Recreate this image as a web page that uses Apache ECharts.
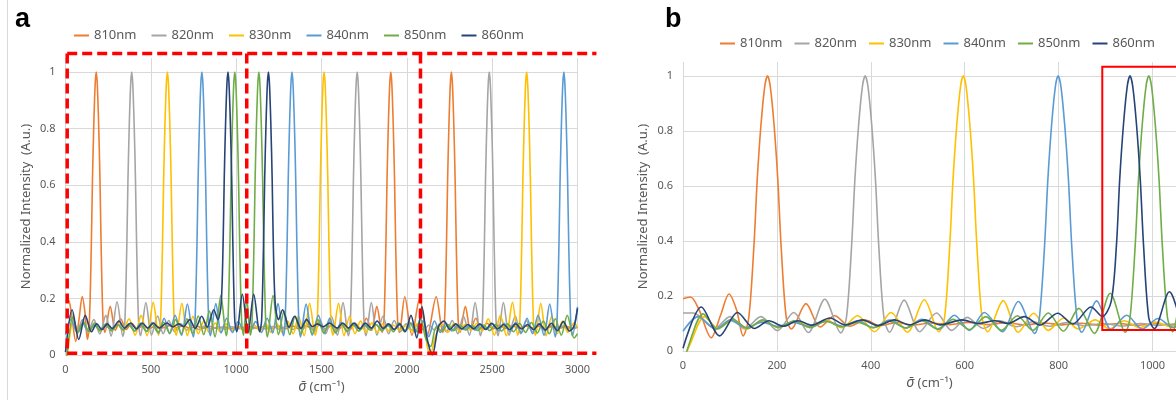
<!DOCTYPE html>
<html>
<head>
<meta charset="utf-8">
<script src="https://cdn.jsdelivr.net/npm/echarts@6/dist/echarts.min.js"></script>
<style>
  html, body { margin: 0; padding: 0; background: #ffffff; }
  #chart { width: 1176px; height: 400px; }
</style>
</head>
<body>
<div id="chart"></div>
<script>
// Series names and wavenumber spectra, as [wavenumber (cm-1), normalized intensity]
const wavelengths = ['810nm', '820nm', '830nm', '840nm', '850nm', '860nm'];

const spectrum810 = [
  [0,0.19],[16,0.196],[34,0.15],[60,0.048],[80,0.13],[98,0.207],[114,0.15],[128,0.055],
  [140,0.12],[151,0.38],[158,0.62],[166,0.82],[174,0.96],[180,1],[186,0.96],[194,0.82],[202,0.62],[209,0.38],[220,0.12],
  [231,0.08],[262,0.172],[292,0.087],[323,0.128],[355,0.09],[388,0.112],[420,0.092],[455,0.104],[490,0.094],[528,0.102],
  [568,0.096],[608,0.104],[648,0.096],[688,0.103],[728,0.095],[768,0.102],[808,0.095],[848,0.101],[888,0.094],[928,0.1],
  [968,0.093],[1008,0.099],[1048,0.093],[1088,0.1],[1128,0.094],[1168,0.101],[1208,0.094],[1248,0.102],[1288,0.093],
  [1328,0.103],[1368,0.093],[1408,0.104],[1448,0.092],[1488,0.105],[1526,0.091],[1562,0.107],[1598,0.09],[1632,0.108],
  [1666,0.09],[1698,0.112],[1731,0.09],[1763,0.13],[1794,0.087],[1824,0.172],[1855,0.08],
  [1866,0.12],[1877,0.38],[1884,0.62],[1892,0.82],[1900,0.96],[1906,1],[1912,0.96],[1920,0.82],[1928,0.62],[1935,0.38],[1946,0.12],
  [1957,0.08],[1988,0.206],[2030,0.07],[2075,0.2],[2120,0.07],[2172,0.206],[2210,0.08],
  [2221,0.12],[2232,0.38],[2239,0.62],[2247,0.82],[2255,0.96],[2261,1],[2267,0.96],[2275,0.82],[2283,0.62],[2290,0.38],[2301,0.12],
  [2312,0.08],[2343,0.172],[2373,0.087],[2404,0.13],[2436,0.09],[2470,0.112],[2505,0.092],[2540,0.106],[2578,0.094],
  [2616,0.104],[2656,0.095],[2696,0.103],[2736,0.096],[2776,0.102],[2816,0.095],[2856,0.102],[2896,0.095],[2936,0.101],
  [2976,0.094],[3000,0.098]
];

const spectrum820 = [
  [0,0.138],[22,0.138],[67,0.082],[100,0.125],[131,0.08],[166,0.125],[201,0.074],[236,0.14],[267,0.067],[302,0.188],[336,0.066],
  [348,0.12],[359,0.38],[366,0.62],[374,0.82],[382,0.96],[388,1],[394,0.96],[402,0.82],[410,0.62],[417,0.38],[428,0.12],
  [440,0.068],[471,0.185],[504,0.07],[540,0.138],[572,0.075],[605,0.122],[640,0.082],[675,0.11],[710,0.088],[745,0.106],
  [780,0.09],[818,0.103],[856,0.092],[895,0.1],[935,0.091],[975,0.1],[1015,0.093],[1055,0.099],[1095,0.093],[1135,0.1],
  [1175,0.092],[1215,0.101],[1255,0.091],[1295,0.102],[1335,0.09],[1362,0.104],[1387,0.09],[1422,0.11],[1457,0.082],
  [1492,0.122],[1525,0.075],[1557,0.138],[1593,0.07],[1626,0.185],[1657,0.068],
  [1669,0.12],[1680,0.38],[1687,0.62],[1695,0.82],[1703,0.96],[1709,1],[1715,0.96],[1723,0.82],[1731,0.62],[1738,0.38],[1749,0.12],
  [1761,0.068],[1792,0.185],[1825,0.07],[1861,0.138],[1893,0.075],[1926,0.122],[1961,0.082],[1996,0.11],[2031,0.088],
  [2066,0.108],[2098,0.088],[2130,0.106],[2161,0.088],[2196,0.11],[2231,0.082],[2266,0.122],[2299,0.075],[2331,0.138],
  [2367,0.07],[2400,0.185],[2431,0.068],
  [2443,0.12],[2454,0.38],[2461,0.62],[2469,0.82],[2477,0.96],[2483,1],[2489,0.96],[2497,0.82],[2505,0.62],[2512,0.38],[2523,0.12],
  [2535,0.068],[2566,0.185],[2599,0.07],[2635,0.138],[2667,0.075],[2700,0.122],[2735,0.082],[2770,0.11],[2805,0.088],
  [2840,0.106],[2878,0.09],[2916,0.103],[2956,0.092],[3000,0.1]
];

const spectrum830 = [
  [0,-0.04],[14,0.02],[46,0.125],[74,0.083],[106,0.112],[136,0.08],[170,0.11],[203,0.085],[238,0.108],[272,0.088],[306,0.112],
  [338,0.085],[372,0.128],[408,0.07],[443,0.14],[478,0.068],[514,0.186],[545,0.07],
  [557,0.12],[568,0.38],[575,0.62],[583,0.82],[591,0.96],[597,1],[603,0.96],[611,0.82],[619,0.62],[626,0.38],[637,0.12],
  [649,0.07],[682,0.183],[714,0.068],[747,0.137],[778,0.075],[811,0.12],[842,0.08],[878,0.113],[908,0.08],[940,0.11],
  [972,0.085],[1005,0.105],[1040,0.088],[1056,0.1],[1072,0.088],[1107,0.105],[1140,0.085],[1172,0.11],[1204,0.08],
  [1234,0.113],[1270,0.08],[1301,0.12],[1334,0.075],[1365,0.137],[1398,0.068],[1430,0.183],[1463,0.07],
  [1475,0.12],[1486,0.38],[1493,0.62],[1501,0.82],[1509,0.96],[1515,1],[1521,0.96],[1529,0.82],[1537,0.62],[1544,0.38],[1555,0.12],
  [1567,0.07],[1600,0.183],[1632,0.068],[1665,0.137],[1696,0.075],[1729,0.12],[1760,0.08],[1796,0.113],[1826,0.08],
  [1858,0.11],[1890,0.085],[1923,0.105],[1958,0.088],[1992,0.104],[2028,0.086],[2062,0.11],[2098,0.1],[2120,0.03],[2136,0],
  [2170,0.07],[2205,0.11],[2240,0.08],[2275,0.11],[2308,0.085],[2342,0.108],[2376,0.088],[2411,0.112],[2443,0.085],
  [2477,0.128],[2513,0.07],[2548,0.14],[2583,0.068],[2619,0.186],[2650,0.07],
  [2662,0.12],[2673,0.38],[2680,0.62],[2688,0.82],[2696,0.96],[2702,1],[2708,0.96],[2716,0.82],[2724,0.62],[2731,0.38],[2742,0.12],
  [2754,0.07],[2785,0.183],[2816,0.068],[2849,0.137],[2880,0.075],[2913,0.12],[2944,0.08],[2980,0.113],[3000,0.098]
];

const spectrum840 = [
  [0,0.072],[32,0.125],[70,0.08],[100,0.112],[134,0.085],[168,0.105],[202,0.09],[236,0.104],[270,0.088],[305,0.108],
  [340,0.09],[372,0.11],[405,0.085],[440,0.112],[475,0.083],[508,0.115],[545,0.078],[578,0.13],[610,0.075],[642,0.14],
  [680,0.07],[714,0.18],[749,0.064],
  [759,0.12],[770,0.38],[777,0.62],[785,0.82],[793,0.96],[799,1],[805,0.96],[813,0.82],[821,0.62],[828,0.38],[839,0.12],
  [849,0.068],[881,0.182],[912,0.078],[945,0.13],[978,0.08],[1012,0.118],[1045,0.085],[1063,0.1],[1081,0.085],[1114,0.118],
  [1148,0.08],[1181,0.13],[1214,0.078],[1245,0.182],[1277,0.068],
  [1287,0.12],[1298,0.38],[1305,0.62],[1313,0.82],[1321,0.96],[1327,1],[1333,0.96],[1341,0.82],[1349,0.62],[1356,0.38],[1367,0.12],
  [1377,0.064],[1410,0.18],[1446,0.07],[1482,0.14],[1516,0.075],[1548,0.13],[1582,0.078],[1615,0.115],[1650,0.083],
  [1685,0.112],[1718,0.085],[1752,0.11],[1785,0.09],[1820,0.108],[1855,0.088],[1890,0.104],[1924,0.09],[1958,0.105],
  [1992,0.085],[2026,0.112],[2060,0.082],[2094,0.12],[2128,0.065],[2162,0.12],[2196,0.08],[2230,0.112],[2264,0.085],
  [2298,0.105],[2332,0.09],[2366,0.104],[2400,0.088],[2434,0.108],[2468,0.09],[2502,0.11],[2536,0.085],[2569,0.112],
  [2604,0.083],[2638,0.115],[2671,0.078],[2704,0.13],[2737,0.075],[2769,0.14],[2804,0.07],[2837,0.18],[2870,0.064],
  [2880,0.12],[2891,0.38],[2898,0.62],[2906,0.82],[2914,0.96],[2920,1],[2926,0.96],[2934,0.82],[2942,0.62],[2949,0.38],[2960,0.12],
  [2970,0.068],[3000,0.17]
];

const spectrum850 = [
  [0,-0.06],[12,0.02],[43,0.135],[74,0.08],[106,0.115],[138,0.082],[170,0.113],[203,0.085],[237,0.11],[270,0.085],
  [305,0.108],[338,0.088],[372,0.105],[405,0.085],[440,0.108],[475,0.084],[508,0.11],[542,0.08],[575,0.115],[610,0.078],
  [645,0.125],[678,0.075],[712,0.128],[745,0.075],[778,0.138],[810,0.072],[843,0.155],[876,0.064],[910,0.21],[942,0.068],
  [952,0.12],[963,0.38],[970,0.62],[978,0.82],[986,0.96],[992,1],[998,0.96],[1006,0.82],[1014,0.62],[1021,0.38],[1032,0.12],
  [1043,0.07],[1062,0.2],[1083,0.07],
  [1093,0.12],[1104,0.38],[1111,0.62],[1119,0.82],[1127,0.96],[1133,1],[1139,0.96],[1147,0.82],[1155,0.62],[1162,0.38],[1173,0.12],
  [1183,0.064],[1216,0.21],[1248,0.072],[1281,0.155],[1314,0.072],[1346,0.138],[1379,0.075],[1412,0.128],[1446,0.075],
  [1479,0.125],[1514,0.078],[1549,0.115],[1582,0.08],[1616,0.11],[1650,0.084],[1684,0.108],[1719,0.085],[1752,0.105],
  [1786,0.088],[1819,0.108],[1854,0.085],[1887,0.11],[1921,0.082],[1954,0.113],[1986,0.082],[2018,0.115],[2050,0.08],
  [2080,0.13],[2110,0.06],[2140,0.03],[2172,0.1],[2205,0.085],[2240,0.108],[2275,0.086],[2310,0.106],[2345,0.088],
  [2380,0.105],[2415,0.087],[2450,0.106],[2485,0.086],[2520,0.108],[2555,0.085],[2590,0.11],[2625,0.082],[2660,0.112],
  [2695,0.08],[2730,0.115],[2765,0.078],[2800,0.12],[2835,0.075],[2870,0.128],[2905,0.07],[2940,0.14],[2980,0.06],[3000,0.075]
];

const spectrum860 = [
  [0,0.01],[39,0.16],[78,0.055],[116,0.14],[152,0.082],[183,0.11],[214,0.09],[245,0.11],[274,0.094],[313,0.12],[345,0.095],
  [382,0.113],[415,0.092],[450,0.113],[482,0.095],[515,0.113],[548,0.095],[594,0.113],[629,0.1],[664,0.11],[692,0.1],
  [727,0.125],[760,0.094],[798,0.137],[830,0.098],[869,0.16],[893,0.125],
  [912,0.18],[923,0.38],[930,0.62],[938,0.82],[946,0.96],[952,1],[958,0.96],[966,0.82],[974,0.62],[981,0.38],[992,0.12],
  [1004,0.082],[1036,0.215],[1070,0.08],[1103,0.215],[1137,0.082],
  [1149,0.12],[1160,0.38],[1167,0.62],[1175,0.82],[1183,0.96],[1189,1],[1195,0.96],[1203,0.82],[1211,0.62],[1218,0.38],[1229,0.18],
  [1248,0.125],[1272,0.16],[1310,0.098],[1342,0.137],[1380,0.094],[1413,0.125],[1448,0.1],[1476,0.11],[1511,0.1],
  [1546,0.113],[1592,0.095],[1625,0.113],[1658,0.095],[1691,0.113],[1724,0.092],[1757,0.113],[1792,0.095],[1826,0.12],
  [1862,0.094],[1894,0.11],[1926,0.09],[1958,0.11],[1990,0.082],[2024,0.14],[2058,0.06],[2088,0.17],[2118,0.06],[2150,0],
  [2185,0.1],[2218,0.12],[2252,0.09],[2287,0.11],[2322,0.092],[2357,0.108],[2392,0.093],[2427,0.11],[2462,0.09],
  [2497,0.112],[2532,0.092],[2567,0.108],[2602,0.09],[2637,0.11],[2672,0.092],[2707,0.108],[2742,0.09],[2777,0.11],
  [2812,0.088],[2847,0.112],[2882,0.086],[2917,0.118],[2952,0.085],[2978,0.1],[3000,0.165]
];

const spectra = [spectrum810, spectrum820, spectrum830, spectrum840, spectrum850, spectrum860];

// Highlighted regions, in data units of each panel
const panelARegionEdges = [10, 1062, 2080, 3111];   // wavenumber
const panelARegionTopBottom = [1.066, 0.006];       // intensity
const panelBRegion = [[893, 1.033], [1300, 0.076]];

const lineColors = ['#ED7D31', '#A5A5A5', '#FFC000', '#5B9BD5', '#70AD47', '#264478'];
const FONT = 'Noto Sans';
const TEXT = '#595959';
const GRID = '#D9D9D9';

const chart = echarts.init(document.getElementById('chart'), null, { renderer: 'canvas' });

function valueAxisY(gridIndex) {
  return {
    type: 'value', gridIndex, min: 0, max: 1.05, interval: 0.2,
    name: 'Normalized Intensity  (A.u.)', nameLocation: 'middle', nameGap: 33, nameRotate: 90,
    nameTextStyle: { fontFamily: FONT, fontSize: 13, color: TEXT },
    axisLine: { show: false }, axisTick: { show: false },
    axisLabel: { fontFamily: FONT, fontSize: 11, color: TEXT, margin: 10, showMaxLabel: false,
                 formatter: v => String(+v.toFixed(2)) },
    splitLine: { show: true, showMaxLine: false, lineStyle: { color: GRID, width: 1 } }
  };
}

function valueAxisX(gridIndex, max, interval, nameGap) {
  return {
    type: 'value', gridIndex, min: 0, max, interval,
    name: '{s|σ\u0304} (cm⁻¹)', nameLocation: 'middle', nameGap,
    nameTextStyle: { fontFamily: FONT, fontSize: 13, color: TEXT,
                     rich: { s: { fontFamily: FONT, fontSize: 14, fontStyle: 'italic', color: TEXT } } },
    axisLine: { show: true, onZero: false, lineStyle: { color: GRID, width: 1 } },
    axisTick: { show: false },
    axisLabel: { fontFamily: FONT, fontSize: 11, color: TEXT, margin: 9,
                 showMaxLabel: max % interval === 0, formatter: v => String(v) },
    splitLine: { show: true, lineStyle: { color: GRID, width: 1 } }
  };
}

function legendFor(left, top, gap) {
  return {
    data: wavelengths, left, top, orient: 'horizontal', icon: 'rect',
    itemWidth: 15, itemHeight: 2, itemGap: gap, selectedMode: false,
    textStyle: { fontFamily: FONT, fontSize: 13, color: TEXT }
  };
}

const series = [];
[0, 1].forEach(panel => {
  wavelengths.forEach((name, i) => {
    series.push({
      name, type: 'line', xAxisIndex: panel, yAxisIndex: panel,
      data: spectra[i], showSymbol: false, symbol: 'none',
      smooth: 0.3, clip: true,
      lineStyle: { width: 1.6, color: lineColors[i] },
      itemStyle: { color: lineColors[i] },
      emphasis: { disabled: true }
    });
  });
});

chart.setOption({
  animation: false,
  backgroundColor: '#ffffff',
  color: lineColors,
  grid: [
    { left: 65.5, top: 58, width: 512, height: 297 },
    { left: 683, top: 62, width: 499.4, height: 289 }
  ],
  xAxis: [valueAxisX(0, 3000, 500, 25), valueAxisX(1, 1050, 200, 24)],
  yAxis: [valueAxisY(0), valueAxisY(1)],
  legend: [legendFor(69, 24, 15), legendFor(715, 32, 12)],
  series
});

// Annotation outlines placed through each panel's own coordinate system
const toPx = (g, x, y) => chart.convertToPixel({ gridIndex: g }, [x, y]);
const dashStyle = { stroke: '#FF0000', lineWidth: 3.5, lineDash: [10, 5], fill: null };
const graphics = [];
const [eL, eD1, eD2, eR] = panelARegionEdges;
const [rTop, rBot] = panelARegionTopBottom;
[[eL, rTop, eR, rTop], [eL, rBot, eR, rBot], [eL, rTop, eL, rBot], [eD1, rTop, eD1, rBot], [eD2, rTop, eD2, rBot]]
  .forEach(([x1, y1, x2, y2]) => {
    const p1 = toPx(0, x1, y1), p2 = toPx(0, x2, y2);
    graphics.push({ type: 'line', z: 100, silent: true,
      shape: { x1: p1[0], y1: p1[1], x2: p2[0], y2: p2[1] }, style: dashStyle });
  });
const b1 = toPx(1, panelBRegion[0][0], panelBRegion[0][1]);
const b2 = toPx(1, panelBRegion[1][0], panelBRegion[1][1]);
graphics.push({ type: 'rect', z: 100, silent: true,
  shape: { x: b1[0], y: b1[1], width: b2[0] - b1[0], height: b2[1] - b1[1] },
  style: { stroke: '#FF0000', lineWidth: 2, fill: null } });

// Panel letters and the frame line on the left
graphics.push({ type: 'text', left: 15, top: 6, z: 100,
  style: { text: 'a', font: 'bold 27px "Liberation Sans"', fill: '#000000' } });
graphics.push({ type: 'text', left: 665, top: 6, z: 100,
  style: { text: 'b', font: 'bold 27px "Liberation Sans"', fill: '#000000' } });
graphics.push({ type: 'line', z: 100, silent: true,
  shape: { x1: 7.5, y1: 0, x2: 7.5, y2: 400 }, style: { stroke: '#D9D9D9', lineWidth: 1 } });

chart.setOption({ graphic: graphics });
</script>
</body>
</html>
